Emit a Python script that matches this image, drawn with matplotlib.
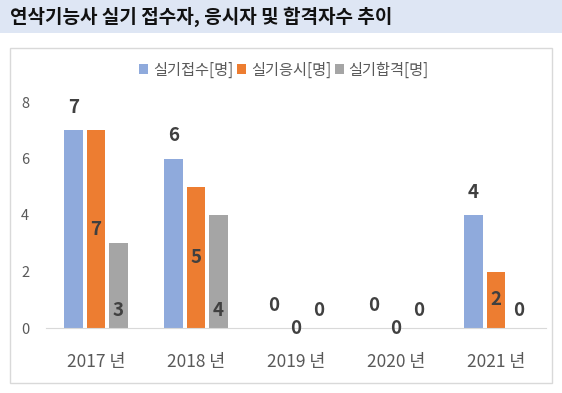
import numpy as np
import matplotlib.pyplot as plt
from matplotlib.patches import Rectangle

plt.rcParams['font.family'] = ['Noto Sans CJK KR', 'DejaVu Sans']

# data
years = ['2017 년', '2018 년', '2019 년', '2020 년', '2021 년']
applied = [7, 6, 0, 0, 4]     # 실기접수
taken = [7, 5, 0, 0, 2]       # 실기응시
passed = [3, 4, 0, 0, 0]      # 실기합격
series_names = ['실기접수[명]', '실기응시[명]', '실기합격[명]']
title = '연삭기능사 실기 접수자, 응시자 및 합격자수 추이'

colors = ['#8FAADC', '#ED7D31', '#A5A5A5']
W, H = 562, 393

fig = plt.figure(figsize=(W / 100, H / 100), dpi=100)

# title banner
fig.patches.append(Rectangle((0, 1 - 33 / H), 1, 33 / H, transform=fig.transFigure,
                             facecolor='#DEE6F4', edgecolor='none', zorder=0))
fig.text(10 / W, 1 - 17 / H, title, fontsize=13.7, fontweight='bold', color='#111111',
         va='center', ha='left')

# chart frame
fig.patches.append(Rectangle((10 / W, 1 - 383 / H), 542 / W, 335 / H, transform=fig.transFigure,
                             facecolor='none', edgecolor='#D9D9D9', linewidth=1, zorder=0))

ax = fig.add_axes([46 / W, 1 - 328 / H, 500 / W, 226 / H])
x = np.arange(len(years))
bw = 0.185
step = 0.225
b1 = ax.bar(x - step, applied, bw, color=colors[0], label=series_names[0])
b2 = ax.bar(x, taken, bw, color=colors[1], label=series_names[1])
b3 = ax.bar(x + step, passed, bw, color=colors[2], label=series_names[2])

lab = dict(fontsize=13.5, fontweight='bold', color='#404040', ha='center', va='center')
for i in range(len(years)):
    ax.annotate(str(applied[i]), (x[i] - step, applied[i]), xytext=(0, 16.5),
                textcoords='offset points', **lab)
    ax.annotate(str(taken[i]), (x[i], taken[i] / 2), xytext=(0, 0),
                textcoords='offset points', **lab)
    ax.annotate(str(passed[i]), (x[i] + step, 0), xytext=(0, 12.5),
                textcoords='offset points', **lab)

ax.set_xlim(-0.5, len(years) - 0.5)
ax.set_ylim(0, 8)
ax.set_yticks([0, 2, 4, 6, 8])
ax.set_xticks(x)
ax.set_xticklabels(years)
ax.tick_params(axis='both', length=0, colors='#595959')
ax.tick_params(axis='x', pad=18, labelsize=12.5)
ax.tick_params(axis='y', pad=12, labelsize=10.5)
for s in ['top', 'right', 'left']:
    ax.spines[s].set_visible(False)
ax.spines['bottom'].set_color('#D9D9D9')
ax.patch.set_alpha(0)

fig.legend(handles=[b1, b2, b3], loc='center', bbox_to_anchor=(284 / W, 1 - 70 / H),
           ncol=3, frameon=False, fontsize=11, handlelength=0.6, handleheight=0.6,
           handletextpad=0.3, columnspacing=0.25, labelcolor='#595959')

fig.savefig('out.png', dpi=100)
